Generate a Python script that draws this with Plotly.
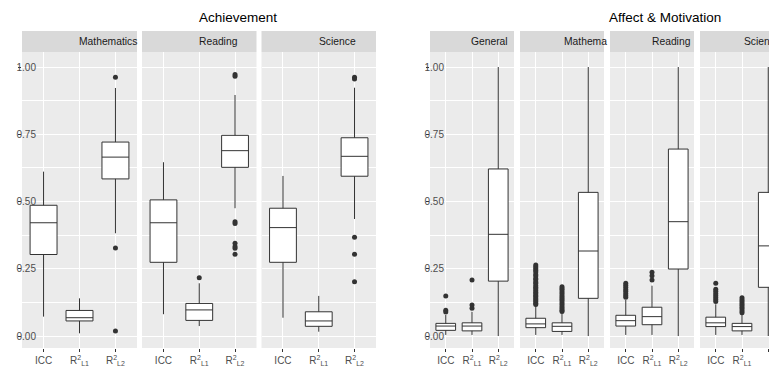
import plotly.graph_objects as go

# ---------------- data ----------------
tick_positions = [0, 1, 2]
tick_labels = ["ICC", "R<sup>2</sup><sub>L1</sub>", "R<sup>2</sup><sub>L2</sub>"]
y_tickvals = [0.0, 0.25, 0.5, 0.75, 1.0]
y_ticktext = ["0.00", "0.25", "0.50", "0.75", "1.00"]

group_titles = ["Achievement", "Affect & Motivation"]
panel_names = ["Mathematics", "Reading", "Science", "General", "Mathema", "Reading", "Science"]

# Achievement - Mathematics
ach_math_q1 = [0.303, 0.056, 0.584]
ach_math_med = [0.421, 0.068, 0.665]
ach_math_q3 = [0.486, 0.095, 0.721]
ach_math_lo = [0.072, 0.010, 0.382]
ach_math_hi = [0.611, 0.140, 0.922]
ach_math_out = [[], [], [0.962, 0.327, 0.019]]

# Achievement - Reading
ach_read_q1 = [0.274, 0.058, 0.627]
ach_read_med = [0.421, 0.097, 0.689]
ach_read_q3 = [0.506, 0.121, 0.746]
ach_read_lo = [0.081, 0.037, 0.475]
ach_read_hi = [0.646, 0.196, 0.896]
ach_read_out = [[], [0.217], [0.972, 0.966, 0.425, 0.418, 0.345, 0.333, 0.326, 0.304]]

# Achievement - Science
ach_sci_q1 = [0.274, 0.036, 0.594]
ach_sci_med = [0.403, 0.056, 0.668]
ach_sci_q3 = [0.475, 0.090, 0.737]
ach_sci_lo = [0.068, 0.016, 0.435]
ach_sci_hi = [0.595, 0.149, 0.923]
ach_sci_out = [[], [], [0.962, 0.955, 0.367, 0.304, 0.202]]

# Affect & Motivation - General
aff_gen_q1 = [0.021, 0.019, 0.204]
aff_gen_med = [0.037, 0.037, 0.378]
aff_gen_q3 = [0.047, 0.049, 0.621]
aff_gen_lo = [0.004, 0.004, 0.0]
aff_gen_hi = [0.078, 0.090, 1.0]
aff_gen_out = [[0.149, 0.096, 0.089], [0.208, 0.115, 0.103], []]

# Affect & Motivation - Mathematics
aff_math_q1 = [0.031, 0.017, 0.140]
aff_math_med = [0.045, 0.036, 0.316]
aff_math_q3 = [0.066, 0.049, 0.534]
aff_math_lo = [0.004, 0.004, 0.0]
aff_math_hi = [0.113, 0.084, 1.0]
aff_math_out = [
    [0.264, 0.257, 0.251, 0.244, 0.238, 0.229, 0.223, 0.214, 0.209, 0.201, 0.196, 0.188,
     0.181, 0.176, 0.169, 0.163, 0.157, 0.151, 0.146, 0.139, 0.134, 0.128, 0.122, 0.117],
    [0.183, 0.177, 0.171, 0.164, 0.157, 0.150, 0.143, 0.137, 0.130, 0.123, 0.116, 0.109,
     0.102, 0.096, 0.091],
    [],
]

# Affect & Motivation - Reading
aff_read_q1 = [0.037, 0.042, 0.249]
aff_read_med = [0.057, 0.072, 0.425]
aff_read_q3 = [0.077, 0.107, 0.695]
aff_read_lo = [0.004, 0.004, 0.0]
aff_read_hi = [0.134, 0.187, 1.0]
aff_read_out = [[0.196, 0.189, 0.181, 0.173, 0.166, 0.158, 0.151, 0.144], [0.237, 0.224, 0.208], []]

# Affect & Motivation - Science
aff_sci_q1 = [0.035, 0.019, 0.181]
aff_sci_med = [0.049, 0.035, 0.335]
aff_sci_q3 = [0.070, 0.047, 0.534]
aff_sci_lo = [0.004, 0.004, 0.0]
aff_sci_hi = [0.118, 0.080, 1.0]
aff_sci_out = [[0.196, 0.174, 0.166, 0.158, 0.151, 0.143, 0.136, 0.128],
               [0.142, 0.135, 0.128, 0.121, 0.114, 0.107, 0.100, 0.093, 0.086], []]

panel_stats = [
    (ach_math_q1, ach_math_med, ach_math_q3, ach_math_lo, ach_math_hi, ach_math_out),
    (ach_read_q1, ach_read_med, ach_read_q3, ach_read_lo, ach_read_hi, ach_read_out),
    (ach_sci_q1, ach_sci_med, ach_sci_q3, ach_sci_lo, ach_sci_hi, ach_sci_out),
    (aff_gen_q1, aff_gen_med, aff_gen_q3, aff_gen_lo, aff_gen_hi, aff_gen_out),
    (aff_math_q1, aff_math_med, aff_math_q3, aff_math_lo, aff_math_hi, aff_math_out),
    (aff_read_q1, aff_read_med, aff_read_q3, aff_read_lo, aff_read_hi, aff_read_out),
    (aff_sci_q1, aff_sci_med, aff_sci_q3, aff_sci_lo, aff_sci_hi, aff_sci_out),
]

# ---------------- layout geometry (pixels) ----------------
W, H = 769, 371
panel_px = [(22, 137), (142, 256.5), (261.5, 376), (430, 514), (520, 604), (610, 694), (700, 769)]
x_ranges = [[-0.6, 2.6]] * 6 + [[-0.6, -0.6 + 69 / 26.25]]
plot_top, plot_bot = 52, 348
strip_top = 31
y_range = [-0.0446, 1.0558]

FONT = "Liberation Sans, Arial, sans-serif"
DARK = "#333333"

fig = go.Figure()

for i, (q1, med, q3, lo, hi, outs) in enumerate(panel_stats):
    xa = "x" if i == 0 else f"x{i+1}"
    ya = "y" if i < 3 else "y2"
    fig.add_trace(go.Box(
        x=tick_positions, q1=q1, median=med, q3=q3, lowerfence=lo, upperfence=hi,
        orientation="v", xaxis=xa, yaxis=ya, fillcolor="white",
        line=dict(color=DARK, width=1), whiskerwidth=0, width=0.75,
        boxpoints=False, showlegend=False, hoverinfo="skip",
    ))
    ox, oy = [], []
    for k, vals in enumerate(outs):
        for v in vals:
            ox.append(tick_positions[k])
            oy.append(v)
    if ox:
        fig.add_trace(go.Scatter(
            x=ox, y=oy, mode="markers", xaxis=xa, yaxis=ya,
            marker=dict(color=DARK, size=5), showlegend=False, hoverinfo="skip",
        ))

ydom = [1 - plot_bot / H, 1 - plot_top / H]
layout = dict(
    width=W, height=H, margin=dict(l=0, r=0, t=0, b=0),
    paper_bgcolor="white", plot_bgcolor="#ebebeb",
    font=dict(family=FONT, color="#4d4d4d"),
)

for i, (a, b) in enumerate(panel_px):
    key = "xaxis" if i == 0 else f"xaxis{i+1}"
    layout[key] = dict(
        domain=[a / W, b / W], anchor="y" if i < 3 else "y2", range=x_ranges[i],
        tickmode="array", tickvals=tick_positions, ticktext=tick_labels,
        ticks="outside", ticklen=3, tickwidth=1, tickcolor=DARK,
        showgrid=True, gridcolor="white", gridwidth=1.1, zeroline=False, showline=False,
        tickfont=dict(size=10, color="#4d4d4d", family=FONT), fixedrange=True,
    )

for key, anchor in (("yaxis", "x"), ("yaxis2", "x4")):
    layout[key] = dict(
        domain=ydom, anchor=anchor, range=y_range,
        tickmode="array", tickvals=y_tickvals, ticktext=y_ticktext,
        ticks="outside", ticklen=3, tickwidth=1, tickcolor=DARK,
        showgrid=True, gridcolor="white", gridwidth=1.1, zeroline=False, showline=False,
        minor=dict(tickmode="array", tickvals=[0.125, 0.375, 0.625, 0.875], showgrid=True,
                   gridcolor="white", gridwidth=0.5, ticks=""),
        tickfont=dict(size=10, color="#4d4d4d", family=FONT),
        ticklabelstandoff=-20, fixedrange=True,
    )

fig.update_layout(**layout)

# facet strips
for (a, b) in panel_px:
    fig.add_shape(type="rect", xref="paper", yref="paper",
                  x0=a / W, x1=b / W, y0=1 - plot_top / H, y1=1 - strip_top / H,
                  fillcolor="#d9d9d9", line=dict(width=0), layer="below")

strip_pos = [(108, "center"), (218, "center"), (337, "center"), (489.5, "center"),
             (562, "left"), (671.5, "center"), (742, "left")]
for name, (px, anc) in zip(panel_names, strip_pos):
    fig.add_annotation(text=name, xref="paper", yref="paper", x=px / W, y=1 - 41.5 / H,
                       xanchor=anc, yanchor="middle", showarrow=False,
                       font=dict(size=10.3, color="#1a1a1a", family=FONT))

for title, px in zip(group_titles, (238, 665)):
    fig.add_annotation(text=title, xref="paper", yref="paper", x=px / W, y=1 - 18 / H,
                       xanchor="center", yanchor="middle", showarrow=False,
                       font=dict(size=13.5, color="black", family=FONT))

fig.write_html(
    "out.html",
    config={"displayModeBar": False},
    post_script="document.body.style.margin='0';document.body.style.overflow='hidden';",
)
